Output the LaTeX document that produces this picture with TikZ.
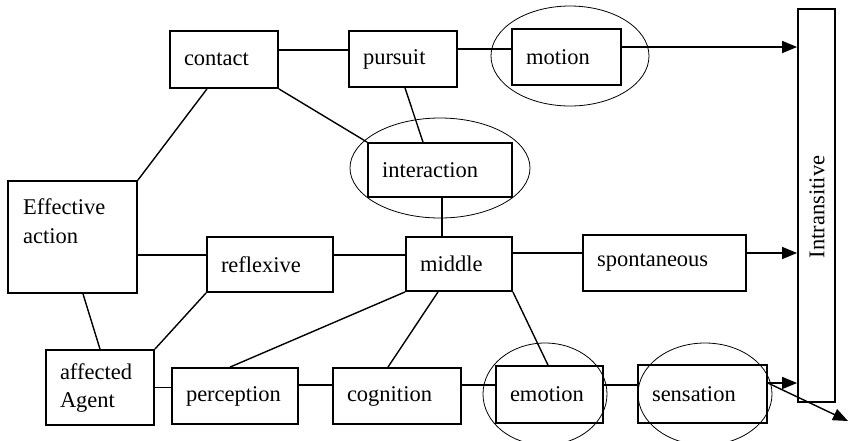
\documentclass[tikz,border=0pt]{standalone}
\usepackage{fontspec}
\setmainfont{Liberation Serif}
\usetikzlibrary{arrows.meta}
\begin{document}
\begin{tikzpicture}[x=1pt,y=-1pt,
  box/.style={draw,line width=1.8pt,rectangle,inner xsep=14pt,inner ysep=0pt,align=left,
    font=\fontsize{22.5}{28}\selectfont},
  conn/.style={line width=1.4pt},
  arr/.style={line width=1.4pt,-{Triangle[length=15pt,width=12pt]}},
  ring/.style={line width=0.8pt}]
\useasboundingbox (0,0) rectangle (849,440);
% boxes
\node[box,text width=80pt,minimum height=57pt] (contact) at (224,59.5) {contact};
\node[box,text width=80pt,minimum height=56pt] (pursuit) at (403,59) {pursuit};
\node[box,text width=81pt,minimum height=56pt] (motion) at (566.5,57) {motion};
\node[box,text width=116pt,minimum height=54pt] (interaction) at (440,170) {interaction};
\node[box,text width=101pt,minimum height=112pt] (effective) at (72.5,237) {};
\node[anchor=west,align=left,inner sep=0pt,font=\fontsize{22.5}{29}\selectfont] (efftext) at (23,221) {Effective\\action};
\node[box,text width=98pt,minimum height=55pt] (reflexive) at (270,264.5) {reflexive};
\node[box,text width=78pt,minimum height=54pt] (middle) at (459,264) {middle};
\node[box,text width=135pt,minimum height=56pt] (spontaneous) at (664.5,263) {spontaneous};
\node[box,text width=80pt,minimum height=75pt,font=\fontsize{22.5}{28}\selectfont] (affected) at (100,387.5) {affected\\Agent};
\node[box,text width=98pt,minimum height=56pt] (perception) at (235,396) {perception};
\node[box,text width=100pt,minimum height=56pt] (cognition) at (397,396) {cognition};
\node[box,text width=79pt,minimum height=57pt] (emotion) at (549.5,394.5) {emotion};
\node[box,text width=101pt,minimum height=58pt] (sensation) at (702.5,394) {sensation};
\node[draw,line width=1.8pt,minimum width=37pt,minimum height=393pt,inner sep=0pt] (intr) at (816.5,205.5) {};
\node[rotate=90,inner sep=0pt,font=\fontsize{22.5}{28}\selectfont] (intrtext) at (817,207) {Intransitive};
% ellipses
\draw[ring] (570,56) ellipse [x radius=79, y radius=50];
\draw[ring] (440,168) ellipse [x radius=90, y radius=50];
\draw[ring] (545,394) ellipse [x radius=62, y radius=51];
\draw[ring] (705,394) ellipse [x radius=67, y radius=51];
% connectors
\draw[conn] ([yshift=9.5pt]contact.east) -- ([yshift=9.5pt]contact.east -| pursuit.west);
\draw[conn] ([yshift=10pt]pursuit.east) -- ([yshift=10pt]pursuit.east -| motion.west);
\draw[arr] ([yshift=10pt]motion.east) -- ([yshift=10pt]motion.east -| intr.west);
\draw[conn] (contact.south east) -- (interaction.north west);
\draw[conn] ([xshift=2pt]pursuit.south) -- ([xshift=-17pt]interaction.north);
\draw[conn] ([xshift=-17pt]contact.south) -- (effective.north east);
\draw[conn] ([xshift=2pt]interaction.south) -- ([xshift=2pt]interaction.south |- middle.north);
\draw[conn] ([yshift=9.5pt]reflexive.west) -- ([yshift=9.5pt]reflexive.west -| effective.east);
\draw[conn] ([yshift=9.5pt]reflexive.east) -- ([yshift=9.5pt]reflexive.east -| middle.west);
\draw[conn] ([yshift=10pt]spontaneous.west) -- ([yshift=10pt]spontaneous.west -| middle.east);
\draw[arr] ([yshift=10pt]spontaneous.east) -- ([yshift=10pt]spontaneous.east -| intr.west);
\draw[conn] ([xshift=10.5pt]effective.south) -- (affected.north);
\draw[conn] (reflexive.south west) -- (affected.north east);
\draw[conn] (affected.east) -- (affected.east -| perception.west);
\draw[conn] ([yshift=11pt]perception.east) -- ([yshift=11pt]perception.east -| cognition.west);
\draw[conn] ([yshift=11pt]cognition.east) -- ([yshift=11pt]cognition.east -| emotion.west);
\draw[conn] ([yshift=9.5pt]emotion.east) -- ([yshift=9.5pt]emotion.east -| sensation.west);
\draw[arr] ([yshift=11pt]sensation.east) -- ([yshift=11pt]sensation.east -| intr.west);
\coordinate (offend) at (848,421);
\draw[arr] ([yshift=11pt]sensation.east) -- (offend);
\draw[conn] (middle.south west) -- ([xshift=-5pt]perception.north);
\draw[conn] ([xshift=-21pt]middle.south) -- ([xshift=-9pt]cognition.north);
\draw[conn] (middle.south east) -- ([xshift=-1.5pt]emotion.north);
\end{tikzpicture}
\end{document}
